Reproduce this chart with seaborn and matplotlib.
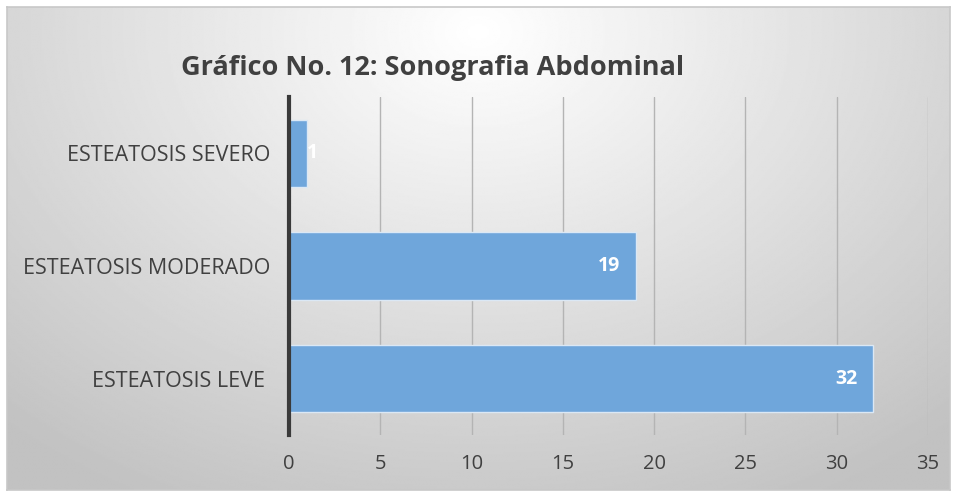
import numpy as np
import pandas as pd
import matplotlib
matplotlib.use("Agg")
import matplotlib.pyplot as plt
import seaborn as sns

categories = ["ESTEATOSIS SEVERO", "ESTEATOSIS MODERADO", "ESTEATOSIS LEVE "]
counts = [1, 19, 32]
x_ticks = [0, 5, 10, 15, 20, 25, 30, 35]
title = "Gráfico No. 12: Sonografia Abdominal"

sns.set_theme(style="white")
plt.rcParams["font.family"] = ["Open Sans", "DejaVu Sans"]

W, H = 957, 492
fig = plt.figure(figsize=(W / 100, H / 100), dpi=100)
fig.patch.set_facecolor("white")

# Chart area background: soft radial gradient, bright at the top centre
bg = fig.add_axes([7 / W, 2 / H, 943 / W, 483 / H], zorder=-2)
yy, xx = np.mgrid[0:1:300j, 0:1:600j]
r = np.sqrt(((xx - 0.5) / 0.75) ** 2 + ((yy - 0.05) / 1.1) ** 2)
shade = np.clip(1.0 - 0.24 * r, 0.76, 1.0)
bg.imshow(shade, cmap="gray", vmin=0, vmax=1, aspect="auto",
          extent=[0, 1, 1, 0], interpolation="bilinear")
bg.set_xticks([]); bg.set_yticks([])
for s in bg.spines.values():
    s.set_color("#c8c8c8")
    s.set_linewidth(1.2)

ax = fig.add_axes([289 / W, 57 / H, 639 / W, 338 / H])
ax.patch.set_alpha(0)

df = pd.DataFrame({"categoria": categories, "valor": counts})
sns.barplot(data=df, x="valor", y="categoria", orient="h", ax=ax,
            color="#6fa6db", saturation=1, width=0.6,
            edgecolor="#dbe8f5", linewidth=1.0, zorder=3)

ax.set_xlim(0, 35)
ax.set_ylim(2.5, -0.5)
ax.set_xticks(x_ticks)
ax.set_xticklabels([str(t) for t in x_ticks], color="#404040", fontsize=14.5)
ax.tick_params(axis="x", length=0, pad=14)
ax.tick_params(axis="y", length=0, pad=13.5, labelsize=15.5, labelcolor="#404040")
ax.set_xlabel("")
ax.set_ylabel("")
ax.xaxis.grid(True, color="#b4b4b4", linewidth=1.0, zorder=0)
ax.set_axisbelow(True)
for name in ["top", "right", "bottom"]:
    ax.spines[name].set_visible(False)
ax.spines["left"].set_color("#3a3a3a")
ax.spines["left"].set_linewidth(3)
ax.spines["left"].set_zorder(4)

for i, v in enumerate(counts):
    if v >= 3:
        ax.annotate(str(v), (v, i), xytext=(-11, 0), textcoords="offset points",
                    ha="right", va="center", color="white",
                    fontsize=14, fontweight="bold", zorder=5)
    else:
        ax.annotate(str(v), (v, i), xytext=(0, 0), textcoords="offset points",
                    ha="left", va="center", color="white",
                    fontsize=14, fontweight="bold", zorder=5)

fig.text(433 / W, 1 - 68 / H, title, ha="center", va="center",
         fontsize=19.5, fontweight="bold", color="#404040")

fig.savefig("out.png", dpi=100)
